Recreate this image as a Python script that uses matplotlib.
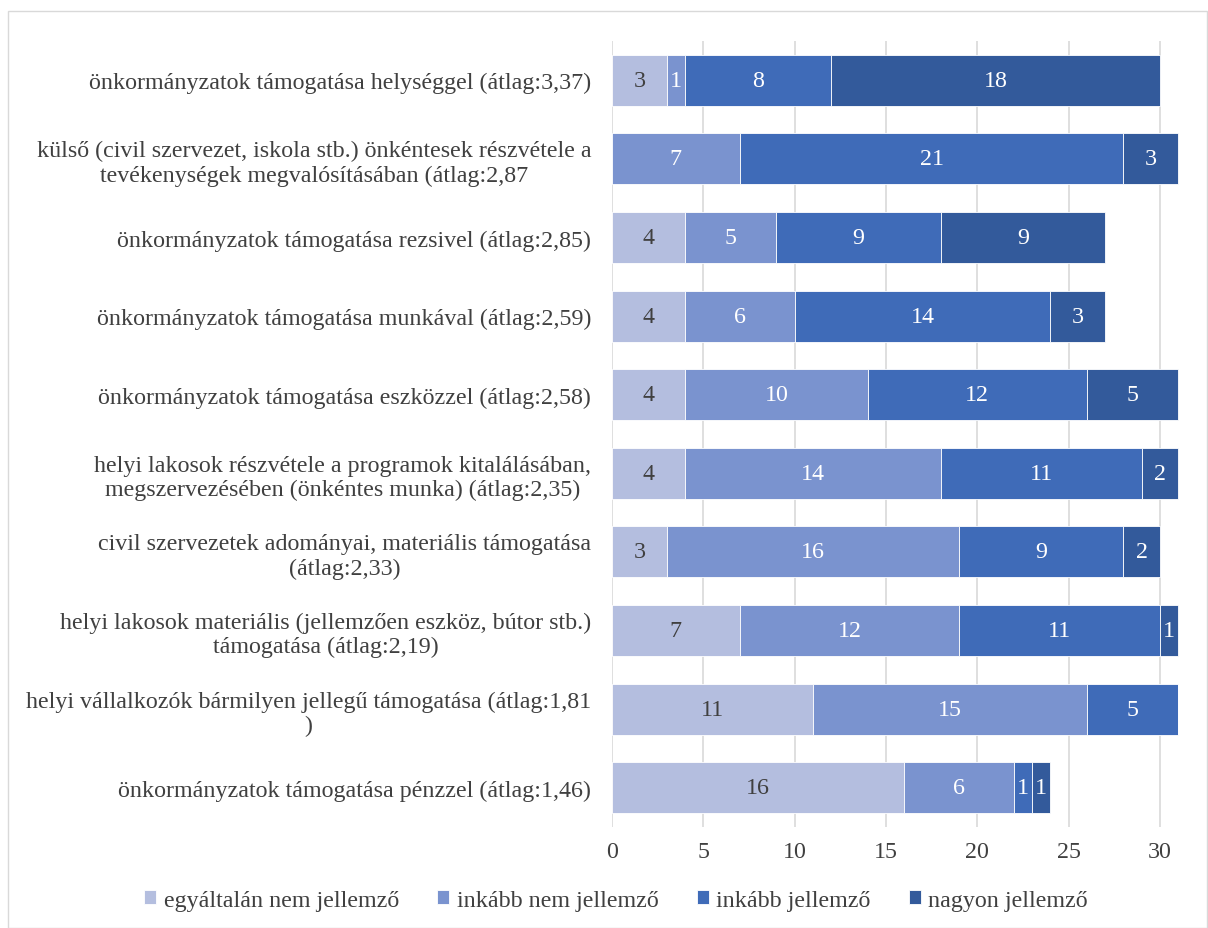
import matplotlib
matplotlib.use("Agg")
import matplotlib.pyplot as plt
from matplotlib.patches import Rectangle
import numpy as np

categories = [
    "önkormányzatok támogatása helységgel (átlag:3,37)",
    "külső (civil szervezet, iskola stb.) önkéntesek részvétele a\ntevékenységek megvalósításában (átlag:2,87",
    "önkormányzatok támogatása rezsivel (átlag:2,85)",
    "önkormányzatok támogatása munkával (átlag:2,59)",
    "önkormányzatok támogatása eszközzel (átlag:2,58)",
    "helyi lakosok részvétele a programok kitalálásában,\nmegszervezésében (önkéntes munka) (átlag:2,35)",
    "civil szervezetek adományai, materiális támogatása\n(átlag:2,33)",
    "helyi lakosok materiális (jellemzően eszköz, bútor stb.)\ntámogatása (átlag:2,19)",
    "helyi vállalkozók bármilyen jellegű támogatása (átlag:1,81\n)",
    "önkormányzatok támogatása pénzzel (átlag:1,46)",
]
series_names = ["egyáltalán nem jellemző", "inkább nem jellemző", "inkább jellemző", "nagyon jellemző"]
egyaltalan_nem = [3, 0, 4, 4, 4, 4, 3, 7, 11, 16]
inkabb_nem = [1, 7, 5, 6, 10, 14, 16, 12, 15, 6]
inkabb = [8, 21, 9, 14, 12, 11, 9, 11, 5, 1]
nagyon = [18, 3, 9, 3, 5, 2, 2, 1, 0, 1]
colors = ["#B4BEDF", "#7A93CF", "#3F6BB8", "#335A9B"]
text_colors = ["#404040", "white", "white", "white"]

plt.rcParams['font.family'] = ['Liberation Serif', 'DejaVu Serif']
FS = 17.3

fig = plt.figure(figsize=(12.08, 9.29), dpi=100)
ax = fig.add_axes([612/1208, 1-828/929, (1180-612)/1208, (828-42)/929])

y = np.arange(len(categories))
left = np.zeros(len(categories))
for vals, c, tc, name in zip([egyaltalan_nem, inkabb_nem, inkabb, nagyon], colors, text_colors, series_names):
    vals = np.array(vals, dtype=float)
    bars = ax.barh(y, vals, left=left, height=0.65, color=c, label=name,
                   edgecolor='white', linewidth=0.6, zorder=3)
    for b, v in zip(bars, vals):
        if v > 0:
            ax.text(b.get_x() + b.get_width()/2, b.get_y() + b.get_height()/2, f"{int(v)}",
                    ha='center', va='center', color=tc, fontsize=FS, zorder=4)
    left += vals

ax.set_ylim(len(categories)-0.5, -0.5)
ax.set_xlim(0, 31.1)
ax.set_xticks([0, 5, 10, 15, 20, 25, 30])
ax.set_yticks(y)
ax.set_yticklabels(categories, multialignment='center')
ax.tick_params(axis='y', length=0, pad=15, labelsize=FS, labelcolor='#404040')
ax.tick_params(axis='x', length=0, pad=10, labelsize=FS, labelcolor='#404040')
ax.grid(axis='x', color='#D9D9D9', linewidth=1.2, zorder=0)
for s in ax.spines.values():
    s.set_visible(False)

handles, labels = ax.get_legend_handles_labels()
fig.legend(handles, labels, loc='center', bbox_to_anchor=(0.51, 1-901/929), ncol=4,
           frameon=False, fontsize=FS, handlelength=0.5, handleheight=0.5,
           handletextpad=0.3, columnspacing=1.6, labelcolor='#404040')

fig.patches.append(Rectangle((8/1208, 0), 1199/1208, 1-12/929, transform=fig.transFigure,
                             fill=False, edgecolor='#D9D9D9', linewidth=1))

fig.savefig("out.png", dpi=100)
